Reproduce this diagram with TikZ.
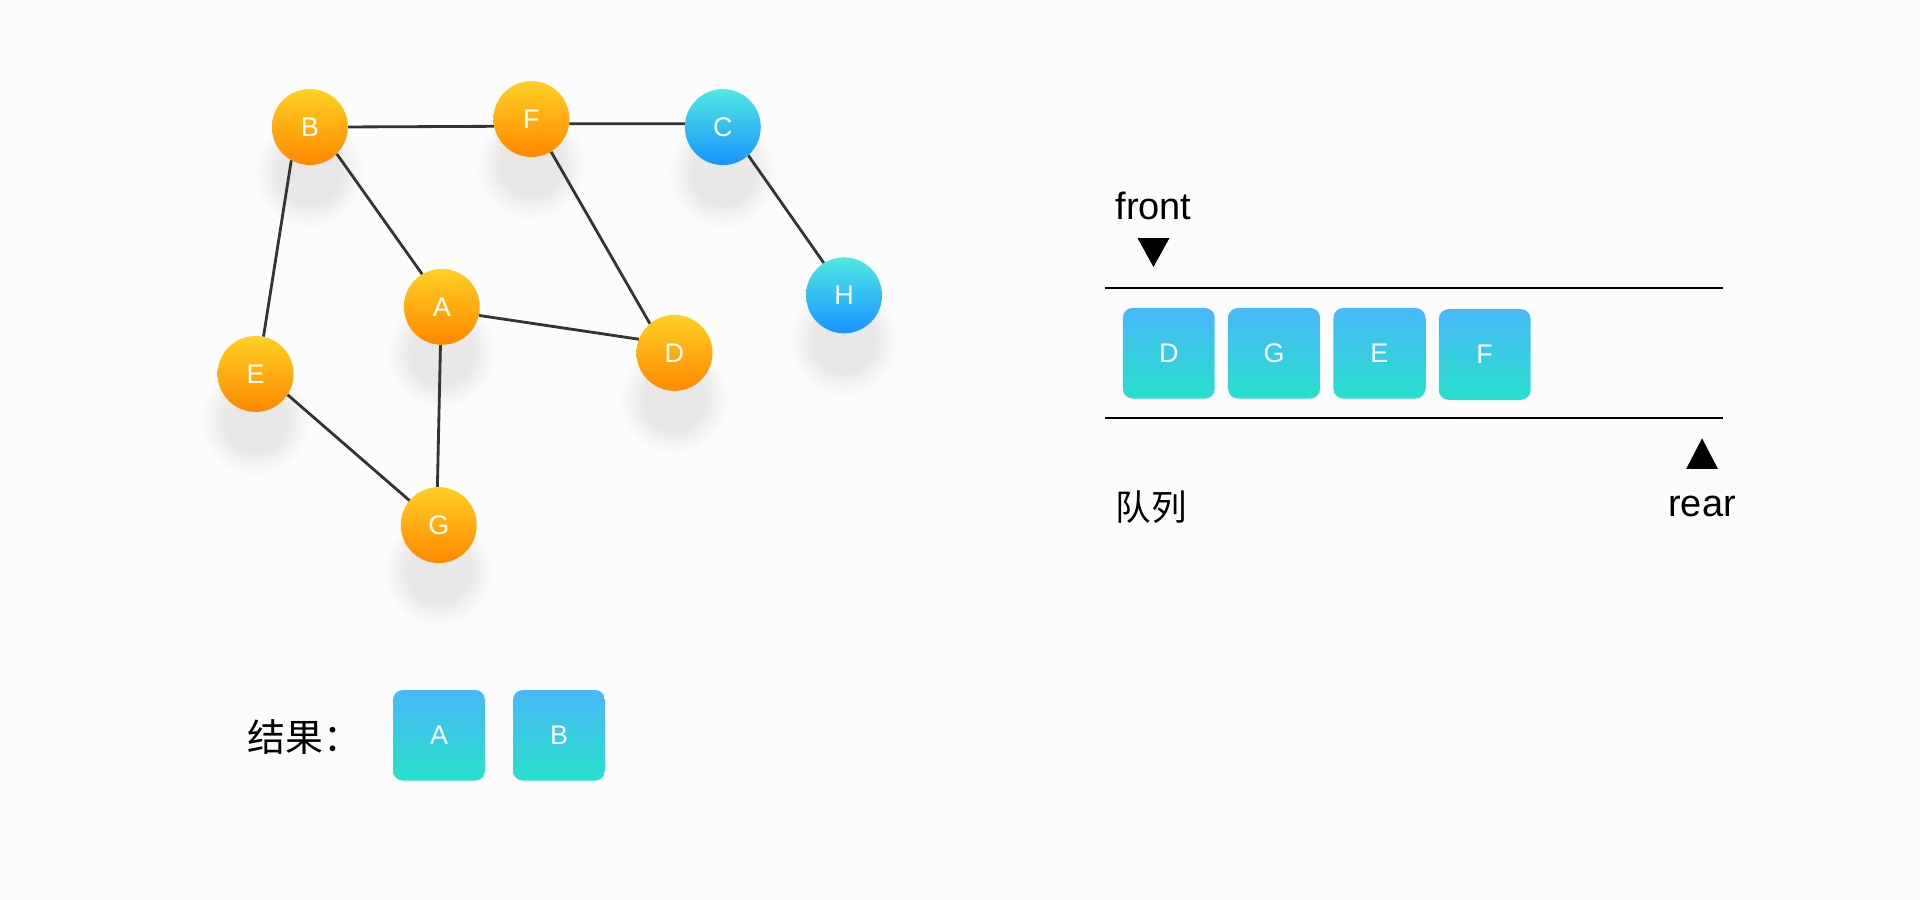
\documentclass[tikz,border=0pt]{standalone}
\usepackage{fontspec}
\setmainfont{Liberation Sans}
\newfontfamily\cjk{Noto Sans CJK SC}
\definecolor{bg}{RGB}{252,252,252}
\definecolor{otop}{RGB}{255,208,36}
\definecolor{obot}{RGB}{255,136,0}
\definecolor{ctop}{RGB}{80,232,226}
\definecolor{cbot}{RGB}{24,148,255}
\definecolor{btop}{RGB}{72,184,248}
\definecolor{bbot}{RGB}{40,224,204}
\definecolor{edgec}{RGB}{52,52,52}
\tikzset{
  vtx/.style={circle,minimum size=62pt,inner sep=0pt,text=white,font=\fontsize{22}{22}\selectfont},
  orange/.style={vtx,top color=otop,bottom color=obot},
  blue/.style={vtx,top color=ctop,bottom color=cbot},
  qbox/.style={rectangle,rounded corners=8pt,minimum width=75pt,minimum height=74pt,inner sep=0pt,
    top color=btop,bottom color=bbot,text=white,font=\fontsize{22}{22}\selectfont},
  edge/.style={draw=edgec,line width=2.3pt},
  qline/.style={draw=black,line width=1.6pt},
  lbl/.style={inner sep=0pt,font=\fontsize{31}{31}\selectfont},
  clbl/.style={inner sep=0pt,font=\fontsize{29}{29}\selectfont\cjk},
  shadowlayer/.style={fill=black,opacity=0.0095},
}
\newcommand{\shadowat}[2]{\foreach \rr in {26,28,...,44} {\fill[shadowlayer] (#1,#2+38) circle (\rr pt);}}
\begin{document}
\begin{tikzpicture}[x=1pt,y=-1pt]
\fill[bg] (0,0) rectangle (1568,735);
\useasboundingbox (0,0) rectangle (1568,735);
% shadows
\shadowat{253}{103.7}
\shadowat{434}{97.2}
\shadowat{590.3}{103.8}
\shadowat{360.8}{250.6}
\shadowat{550.8}{288.2}
\shadowat{208.7}{305.4}
\shadowat{358.3}{428.8}
\shadowat{689.3}{241.2}
% vertices
\node[orange] (B) at (253,103.7) {B};
\node[orange] (F) at (434,97.2) {F};
\node[blue] (C) at (590.3,103.8) {C};
\node[orange] (A) at (360.8,250.6) {A};
\node[orange] (D) at (550.8,288.2) {D};
\node[orange] (E) at (208.7,305.4) {E};
\node[orange] (G) at (358.3,428.8) {G};
\node[blue] (H) at (689.3,241.2) {H};
% edges
\draw[edge] (B.east) -- (F.191);
\draw[edge] (F.353) -- (C.175);
\draw[edge] (C.312) -- (H.122);
\draw[edge] (B.315) -- (A.121);
\draw[edge] (B.241) -- (E.78);
\draw[edge] (F.301) -- (D.130);
\draw[edge] (A.347) -- (D.159);
\draw[edge] (A.268) -- (G.92);
\draw[edge] (E.327) -- (G.140);
% queue
\coordinate (q1) at (902,235);
\coordinate (q2) at (1407,235);
\coordinate (q3) at (902,341);
\coordinate (q4) at (1407,341);
\draw[qline] (q1) -- (q2);
\draw[qline] (q3) -- (q4);
\node[qbox] (qD) at (954.5,288.5) {D};
\node[qbox] (qG) at (1040.5,288.5) {G};
\node[qbox] (qE) at (1126.5,288.5) {E};
\node[qbox] (qF) at (1212.5,289.5) {F};
\node[lbl] (front) at (942,168) {front};
\fill[black] (929,194.5) -- (955,194.5) -- (942,218) -- cycle;
\fill[black] (1377,383) -- (1403,383) -- (1390,358) -- cycle;
\node[lbl] (rear) at (1390,414) {rear};
\node[clbl] (queue) at (940,414) {队列};
% result
\node[clbl,font=\fontsize{31}{31}\selectfont\cjk] (res) at (249,602) {结果：};
\node[qbox] (rA) at (358.5,600.5) {A};
\node[qbox] (rB) at (456.5,600.5) {B};
\end{tikzpicture}
\end{document}
